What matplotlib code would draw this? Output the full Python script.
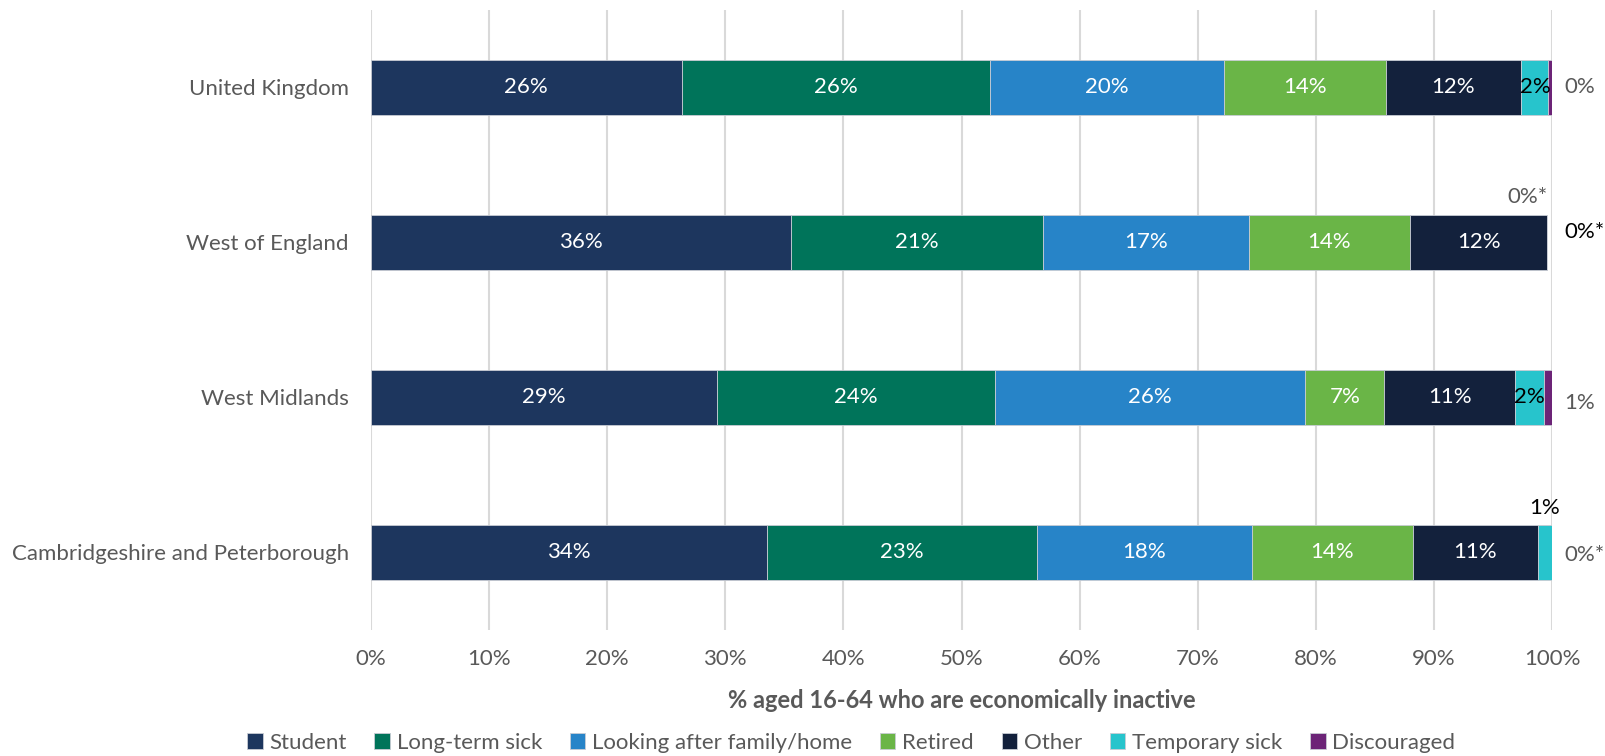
import numpy as np
import matplotlib
matplotlib.use('Agg')
import matplotlib.pyplot as plt

plt.rcParams['font.family'] = ['Lato', 'DejaVu Sans']

# regions, top to bottom
regions = ['United Kingdom', 'West of England', 'West Midlands',
           'Cambridgeshire and Peterborough']

# share of economically inactive 16-64 year olds, by reason (%)
student = [26.3, 35.6, 29.3, 33.5]
long_term_sick = [26.1, 21.3, 23.5, 22.9]
looking_after = [19.8, 17.4, 26.3, 18.2]
retired = [13.7, 13.7, 6.7, 13.6]
other = [11.5, 11.6, 11.1, 10.6]
temporary_sick = [2.3, 0.0, 2.4, 1.2]
discouraged = [0.35, 0.0, 0.74, 0.0]

series_names = ['Student', 'Long-term sick', 'Looking after family/home',
                'Retired', 'Other', 'Temporary sick', 'Discouraged']
series = [student, long_term_sick, looking_after, retired, other,
          temporary_sick, discouraged]
colors = ['#1d365e', '#00745a', '#2784c8', '#6ab547', '#13213c',
          '#27c4cc', '#6c2477']

# labels shown for the small segments (some values are suppressed: *)
temp_labels = ['2%', '0%*', '2%', '1%']
disc_labels = ['0%', '0%*', '1%', '0%*']

grey = '#595959'
fs = 16

fig = plt.figure(figsize=(16.06, 7.56), dpi=100)
ax = fig.add_axes([0.231, 0.1667, 0.7354, 0.8201])

y = np.arange(len(regions))
left = np.zeros(len(regions))
for k, (name, vals, col) in enumerate(zip(series_names, series, colors)):
    vals = np.array(vals)
    ax.barh(y, vals, left=left, height=0.355, color=col, label=name,
            edgecolor='#c8ccd4', linewidth=0.6, zorder=3)
    if k < 5:
        for i, v in enumerate(vals):
            ax.text(left[i] + v / 2, y[i], f'{v:.0f}%', ha='center',
                    va='center', color='white', fontsize=fs, zorder=4)
    left = left + vals

# temporary sick labels
tstart = np.array(student) + np.array(long_term_sick) + np.array(looking_after) \
    + np.array(retired) + np.array(other)
for i, lab in enumerate(temp_labels):
    mid = tstart[i] + temporary_sick[i] / 2
    if i in (0, 2):
        ax.text(mid, y[i], lab, ha='center', va='center', color='black',
                fontsize=fs, zorder=4)
    elif i == 1:
        ax.annotate(lab, (tstart[i], y[i] - 0.18), xytext=(-20, 18),
                    textcoords='offset pixels', ha='center', va='center',
                    color=grey, fontsize=fs)
    else:
        ax.annotate(lab, (mid, y[i] - 0.18), xytext=(0, 17),
                    textcoords='offset pixels', ha='center', va='center',
                    color='black', fontsize=fs)

# discouraged labels, right of the bars
disc_colors = [grey, 'black', grey, grey]
disc_dy = [0, 10, -6, -3]
for i, lab in enumerate(disc_labels):
    ax.annotate(lab, (100, y[i]), xytext=(12, disc_dy[i]),
                textcoords='offset pixels', ha='left', va='center',
                color=disc_colors[i], fontsize=fs)

ax.set_xlim(0, 100)
ax.set_ylim(3.5, -0.5)
ax.set_xticks(np.arange(0, 101, 10))
ax.set_xticklabels([f'{t}%' for t in range(0, 101, 10)])
ax.set_yticks(y)
ax.set_yticklabels(regions)
ax.tick_params(axis='both', length=0, labelsize=fs, colors=grey)
ax.tick_params(axis='y', pad=16)
ax.tick_params(axis='x', pad=14)
ax.grid(axis='x', color='#d9d9d9', linewidth=1.5, zorder=0)
for s in ax.spines.values():
    s.set_visible(False)

ax.set_xlabel('% aged 16-64 who are economically inactive', fontsize=17,
              fontweight='bold', color=grey, labelpad=14)

handles, labels = ax.get_legend_handles_labels()
fig.legend(handles, labels, loc='lower center', bbox_to_anchor=(0.53, -0.022),
           ncol=7, frameon=False, fontsize=fs, handlelength=0.7,
           handleheight=0.7, handletextpad=0.3, columnspacing=1.25,
           labelcolor=grey)

fig.savefig('out.png', dpi=100)
